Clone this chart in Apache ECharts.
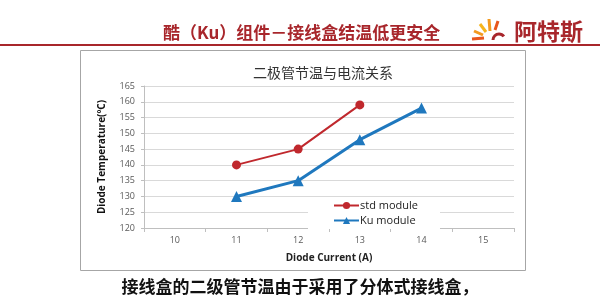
<!DOCTYPE html>
<html>
<head>
<meta charset="utf-8">
<script src="https://cdn.jsdelivr.net/npm/echarts@6/dist/echarts.min.js"></script>
<style>html,body{margin:0;padding:0;background:#fff;}#c{width:600px;height:300px;}</style>
</head>
<body>
<div id="c"></div>
<script>
const categories = ['10', '11', '12', '13', '14', '15'];
const stdModule = [null, 140, 145, 159, null, null];
const kuModule = [null, 130, 135, 148, 158, null];
const headerTitle = '酷（Ku）组件－接线盒结温低更安全';
const brandName = '阿特斯';
const chartTitle = '二极管节温与电流关系';
const yAxisName = 'Diode Temperature(ºC)';
const xAxisName = 'Diode Current (A)';
const footerText = '接线盒的二级管节温由于采用了分体式接线盒，';
const seriesNames = ['std module', 'Ku module'];

const chart = echarts.init(document.getElementById('c'), null, {renderer: 'canvas'});
const cjk = '"Noto Sans CJK SC", sans-serif';
chart.setOption({
  backgroundColor: '#fff',
  animation: false,
  title: {
    text: chartTitle, left: 318, top: 61, textAlign: 'center',
    textStyle: {fontFamily: cjk, fontSize: 14, fontWeight: 'normal', color: '#333'}
  },
  legend: {
    orient: 'vertical', left: 308, top: 197, itemGap: 4, itemWidth: 25, itemHeight: 9,
    backgroundColor: '#fff', padding: [3, 22, 3, 25],
    textStyle: {fontFamily: '"Open Sans", sans-serif', fontSize: 11, color: '#222', padding: [0, 0, 0, -4]},
    data: seriesNames
  },
  grid: {left: 144, right: 86, top: 86, bottom: 72},
  xAxis: {
    type: 'category', data: categories, boundaryGap: true,
    name: xAxisName, nameLocation: 'middle', nameGap: 25,
    nameTextStyle: {fontFamily: '"Open Sans", sans-serif', fontSize: 10, fontWeight: 'bold', color: '#222'},
    axisLine: {lineStyle: {color: '#bfbfbf'}},
    axisTick: {show: true, length: 4, lineStyle: {color: '#bfbfbf'}},
    axisLabel: {fontFamily: '"Open Sans", sans-serif', fontSize: 9, color: '#595959', margin: 8}
  },
  yAxis: {
    type: 'value', min: 120, max: 165, interval: 5,
    name: yAxisName, nameLocation: 'middle', nameGap: 37, nameRotate: 90,
    nameTextStyle: {fontFamily: '"Open Sans", sans-serif', fontSize: 10, fontWeight: 'bold', color: '#111'},
    axisLine: {show: true, lineStyle: {color: '#bfbfbf'}},
    axisTick: {show: true, length: 3, lineStyle: {color: '#bfbfbf'}},
    axisLabel: {fontFamily: '"Open Sans", sans-serif', fontSize: 9, color: '#595959', margin: 9},
    splitLine: {lineStyle: {color: '#d9d9d9', width: 1}}
  },
  series: [
    {
      name: seriesNames[0], type: 'line', data: stdModule, connectNulls: false,
      symbol: 'circle', symbolSize: 9,
      lineStyle: {color: '#c0282d', width: 2}, itemStyle: {color: '#c0282d'}
    },
    {
      name: seriesNames[1], type: 'line', data: kuModule, connectNulls: false,
      symbol: 'triangle', symbolSize: 11,
      lineStyle: {color: '#1f78be', width: 3}, itemStyle: {color: '#1f78be'}
    }
  ],
  graphic: [
    {type: 'rect', shape: {x: 80.5, y: 50.5, width: 445, height: 220}, style: {fill: 'none', stroke: '#a6a6a6', lineWidth: 1}, z: -1},
    {type: 'rect', shape: {x: 0, y: 44, width: 600, height: 2}, style: {fill: '#a8262b'}},
    {type: 'text', left: 163, top: 24, style: {text: headerTitle, font: 'bold 17px ' + cjk, fill: '#a8262b'}},
    {type: 'text', left: 514, top: 20, style: {text: brandName, font: 'bold 23px ' + cjk, fill: '#a8262b', letterSpacing: 4}},
    {type: 'line', shape: {x1: 472, y1: 39, x2: 484, y2: 38}, style: {stroke: '#e8561c', lineWidth: 3}},
    {type: 'line', shape: {x1: 474, y1: 31, x2: 483, y2: 35}, style: {stroke: '#f39a1f', lineWidth: 3}},
    {type: 'line', shape: {x1: 480, y1: 24, x2: 486, y2: 32}, style: {stroke: '#f6b51d', lineWidth: 3}},
    {type: 'line', shape: {x1: 489, y1: 19, x2: 490, y2: 31}, style: {stroke: '#f39a1f', lineWidth: 3}},
    {type: 'line', shape: {x1: 498, y1: 21, x2: 495, y2: 30}, style: {stroke: '#e8561c', lineWidth: 3}},
    {type: 'arc', shape: {cx: 499, cy: 40, r: 6, startAngle: Math.PI, endAngle: Math.PI * 1.8}, style: {stroke: '#a8262b', lineWidth: 3, fill: 'none'}},
    {type: 'text', left: 'center', top: 278, style: {text: footerText, font: 'bold 17px ' + cjk, fill: '#111'}}
  ]
});
</script>
</body>
</html>
